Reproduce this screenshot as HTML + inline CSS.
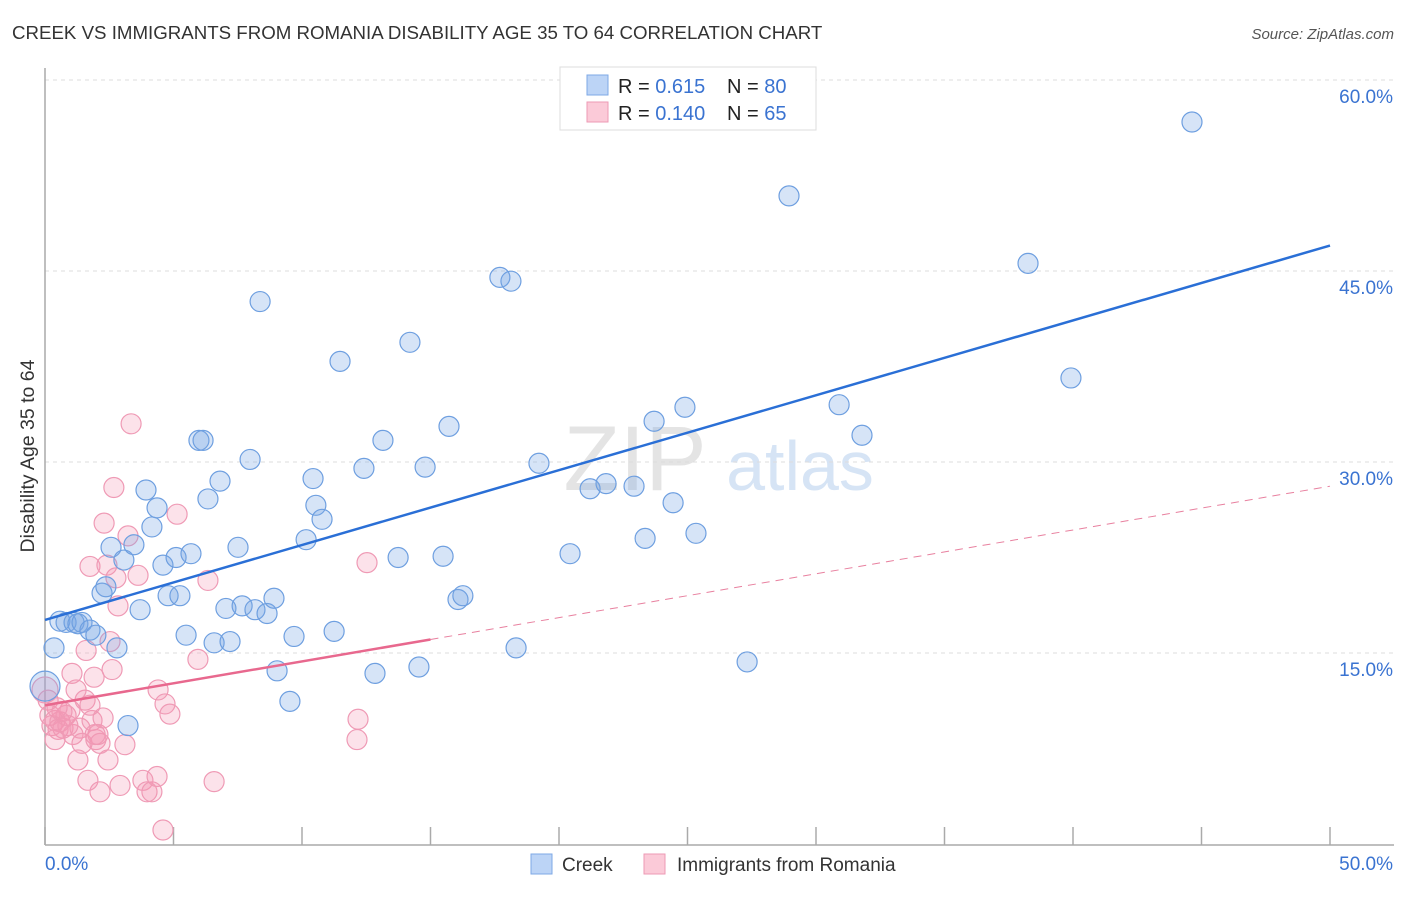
<!DOCTYPE html>
<html><head><meta charset="utf-8"><style>
body{margin:0;background:#fff;font-family:"Liberation Sans",sans-serif;}
svg text{font-family:"Liberation Sans",sans-serif;}
</style></head><body>
<svg id="chart" width="1406" height="892" xmlns="http://www.w3.org/2000/svg">
<text x="12" y="39" font-size="18.7" fill="#333">CREEK VS IMMIGRANTS FROM ROMANIA DISABILITY AGE 35 TO 64 CORRELATION CHART</text>
<text x="1394" y="39" font-size="15" fill="#555" font-style="italic" text-anchor="end">Source: ZipAtlas.com</text>
<text x="34" y="456" font-size="19.5" fill="#333" text-anchor="middle" transform="rotate(-90 34 456)">Disability Age 35 to 64</text>
<g>
<text x="635" y="490" font-size="92" fill="#e4e4e4" font-family="Liberation Serif" text-anchor="middle">ZIP</text>
<text x="800" y="490" font-size="70" fill="#d6e4f5" text-anchor="middle">atlas</text>
</g>
<g id="grid"></g><g id="axes"></g><g id="pts"></g><g id="lines"></g>
<g>
<rect x="560" y="67" width="256" height="63" fill="#fff" stroke="#ddd"/>
<rect x="587" y="75" width="21" height="20" fill="#bcd4f6" stroke="#7ea8e6"/>
<rect x="587" y="102" width="21" height="20" fill="#fbcad8" stroke="#ee9ab4"/>
<text x="618" y="93" font-size="20" fill="#222">R = <tspan fill="#3a73d1">0.615</tspan></text>
<text x="727" y="93" font-size="20" fill="#222">N = <tspan fill="#3a73d1">80</tspan></text>
<text x="618" y="120" font-size="20" fill="#222">R = <tspan fill="#3a73d1">0.140</tspan></text>
<text x="727" y="120" font-size="20" fill="#222">N = <tspan fill="#3a73d1">65</tspan></text>
</g>
<g>
<rect x="531" y="854" width="21" height="20" fill="#bcd4f6" stroke="#7ea8e6"/>
<text x="562" y="871" font-size="19" fill="#333">Creek</text>
<rect x="644" y="854" width="21" height="20" fill="#fbcad8" stroke="#ee9ab4"/>
<text x="677" y="871" font-size="19" fill="#333">Immigrants from Romania</text>
</g>
</svg>
<script>
const yTicks=[15,30,45,60];
const yTickLabels=["15.0%","30.0%","45.0%","60.0%"];
const xTicks=[0,5,10,15,20,25,30,35,40,45,50];
const xEndLabels=["0.0%","50.0%"];
const creekX=[0,0.35,0.58,0.82,1.13,1.28,1.44,1.75,1.98,2.22,2.37,2.57,2.8,3.07,3.23,3.46,3.7,3.93,4.16,4.36,4.59,4.79,5.1,5.25,5.49,5.68,5.99,6.15,6.34,6.58,6.81,7.04,7.2,7.51,7.67,7.98,8.17,8.37,8.64,8.91,9.03,9.53,9.69,10.16,10.43,10.54,10.78,11.25,11.48,12.41,12.84,13.15,13.74,14.2,14.55,14.79,15.49,15.72,16.07,16.26,17.7,18.13,18.33,19.22,20.43,21.21,21.83,22.92,23.35,23.7,24.44,24.9,25.33,27.32,28.95,30.9,31.79,38.25,39.92,44.63];
const creekY=[12.4,15.4,17.5,17.4,17.4,17.3,17.4,16.8,16.4,19.7,20.2,23.3,15.4,22.3,9.3,23.5,18.4,27.8,24.9,26.4,21.9,19.5,22.5,19.5,16.4,22.8,31.7,31.7,27.1,15.8,28.5,18.5,15.9,23.3,18.7,30.2,18.4,42.6,18.1,19.3,13.6,11.2,16.3,23.9,28.7,26.6,25.5,16.7,37.9,29.5,13.4,31.7,22.5,39.4,13.9,29.6,22.6,32.8,19.2,19.5,44.5,44.2,15.4,29.9,22.8,27.9,28.3,28.1,24.0,33.2,26.8,34.3,24.4,14.3,50.9,34.5,32.1,45.6,36.6,56.7];
const romX=[0,0.19,0.27,0.39,0.51,0.58,0.7,0.82,0.97,1.05,1.09,1.21,1.28,1.36,1.44,1.56,1.6,1.67,1.75,1.83,1.91,1.98,2.06,2.14,2.26,2.3,2.41,2.45,2.53,2.61,2.68,2.76,2.84,2.92,3.11,3.23,3.35,3.62,3.81,3.97,4.16,4.36,4.4,4.59,4.67,4.86,5.14,5.95,6.34,6.58,12.18,12.14,12.53,0.12,0.39,0.66,0.89,0.47,2.14,1.75,1.95];
const romY=[12.1,10.1,9.3,9.7,9.0,9.6,9.1,10.1,10.5,13.4,8.6,12.1,6.6,9.1,7.9,11.3,15.2,5.0,21.8,9.7,13.1,8.2,8.6,4.1,9.9,25.2,21.9,6.6,15.9,13.7,28.0,20.9,18.7,4.6,7.8,24.2,33.0,21.1,5.0,4.1,4.1,5.3,12.1,1.1,11.0,10.2,25.9,14.5,20.7,4.9,9.8,8.2,22.1,11.3,8.2,10.4,9.3,10.7,7.9,10.9,8.6];
const creekTrend=[17.6,47.0];
const romTrend=[10.9,28.1];
const romSolidEnd=15;

const NS="http://www.w3.org/2000/svg";
const X=v=>45+v*(1285/50);
const Y=v=>844-v*(191/15);
function mk(tag,attrs,parent){const e=document.createElementNS(NS,tag);for(const k in attrs)e.setAttribute(k,attrs[k]);document.getElementById(parent).appendChild(e);return e;}
yTicks.forEach((t,i)=>{
  const l=mk('line',{x1:45,x2:1394,y1:Y(t),y2:Y(t),stroke:'#ddd','stroke-dasharray':'4,4'},'grid');
  
  
  const tx=mk('text',{x:1393,y:Y(t)+23,'font-size':19,fill:'#3a73d1','text-anchor':'end'},'axes');
  tx.textContent=yTickLabels[i];
  
  
});
const ax=mk('line',{x1:45,x2:45,y1:68,y2:845,stroke:'#aaa','stroke-width':1.5},'axes');


const bx=mk('line',{x1:45,x2:1394,y1:845,y2:845,stroke:'#aaa','stroke-width':1.5},'axes');


xTicks.forEach(t=>{
  const l=mk('line',{x1:X(t),x2:X(t),y1:827,y2:845,stroke:'#aaa','stroke-width':1.5},'axes');
  
  
});
[[0,'start'],[50,'end']].forEach((p,i)=>{
  const tx=mk('text',{x:X(p[0])+(i?63:0),y:870,'font-size':19,fill:'#3a73d1','text-anchor':p[1]},'axes');
  tx.textContent=xEndLabels[i];
  
  
});
romX.forEach((x,i)=>{
  const c=mk('circle',{cx:X(x),cy:Y(romY[i]),r:i===0?13:10,fill:'rgba(244,150,180,0.28)',stroke:'#ef9ab5','stroke-width':1.2},'pts');
  
  
});
creekX.forEach((x,i)=>{
  const c=mk('circle',{cx:X(x),cy:Y(creekY[i]),r:i===0?15:10,fill:'rgba(120,165,230,0.3)',stroke:'#6e9fe0','stroke-width':1.2},'pts');
  
  
});
const lerp=(a,t)=>a[0]+(a[1]-a[0])*t/50;
const cl=mk('line',{x1:X(0),y1:Y(creekTrend[0]),x2:X(50),y2:Y(creekTrend[1]),stroke:'#2a6fd6','stroke-width':2.5},'lines');


const rl=mk('line',{x1:X(0),y1:Y(romTrend[0]),x2:X(romSolidEnd),y2:Y(lerp(romTrend,romSolidEnd)),stroke:'#e8688e','stroke-width':2.5},'lines');


const rd=mk('line',{x1:X(romSolidEnd),y1:Y(lerp(romTrend,romSolidEnd)),x2:X(50),y2:Y(romTrend[1]),stroke:'#e8809f','stroke-width':1,'stroke-dasharray':'8,6'},'lines');


</script>
</body></html>
